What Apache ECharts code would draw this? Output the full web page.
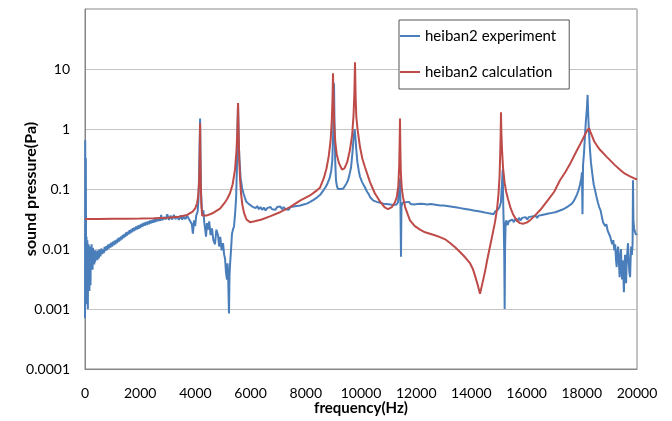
<!DOCTYPE html>
<html>
<head>
<meta charset="utf-8">
<script src="https://cdn.jsdelivr.net/npm/echarts@6/dist/echarts.min.js"></script>
<style>
html,body{margin:0;padding:0;background:#fff;}
#chart{width:672px;height:421px;}
</style>
</head>
<body>
<div id="chart"></div>
<script>
// ---- data (frequency Hz, sound pressure Pa) ----
const seriesNames = ['heiban2 experiment', 'heiban2 calculation'];
const xTicks = [0, 2000, 4000, 6000, 8000, 10000, 12000, 14000, 16000, 18000, 20000];
const yTickLabels = ['0.0001', '0.001', '0.01', '0.1', '1', '10'];

const experiment = [
[0,0.0007],[8,0.65],[15,0.03],[22,0.02],[30,0.33],[38,0.012],[46,0.004],[54,0.016],[62,0.0012],[70,0.009],[78,0.0025],[86,0.014],[95,0.0015],[104,0.001],[113,0.008],[122,0.0022],[131,0.012],[140,0.004],[150,0.0095],[160,0.002],[170,0.011],[180,0.0045],[190,0.008],[200,0.0025],[212,0.0105],[225,0.005],[238,0.012],[250,0.0065],[262,0.009],[275,0.0045],[290,0.0105],[305,0.0065],[320,0.0095],[335,0.0055],[350,0.0085],[368,0.006],[385,0.0095],[405,0.007],[425,0.009],[450,0.0065],[475,0.0095],[500,0.007],[530,0.0098],[560,0.0075],[590,0.0102],[620,0.0082],[650,0.0098],[680,0.0085],[710,0.0108],[740,0.0092],[770,0.0112],[800,0.0096],[830,0.0118],[860,0.0102],[890,0.0122],[920,0.0106],[950,0.0128],[980,0.011],[1010,0.0132],[1040,0.0115],
[1070,0.0138],[1100,0.012],[1130,0.0142],[1160,0.0126],[1190,0.015],[1220,0.0132],[1250,0.0156],[1280,0.0138],[1310,0.0162],[1340,0.0145],[1370,0.0172],[1400,0.0152],[1430,0.0178],[1460,0.016],[1490,0.0188],[1520,0.0168],[1550,0.0195],[1580,0.0175],[1610,0.0205],[1640,0.0182],[1670,0.0212],[1700,0.019],[1730,0.0222],[1760,0.0198],[1790,0.0228],[1820,0.0205],[1850,0.0238],[1880,0.0212],[1910,0.0245],[1940,0.0218],[1970,0.0252],[2000,0.0225],[2040,0.0262],[2080,0.0235],[2120,0.0272],[2160,0.0245],[2200,0.028],[2240,0.0252],[2280,0.0288],[2320,0.026],[2360,0.0298],[2400,0.0268],[2440,0.0305],[2480,0.0275],[2520,0.0315],[2560,0.0282],[2600,0.0325],[2640,0.029],[2680,0.0335],[2720,0.0295],[2760,0.037],[2800,0.03],[2860,0.034],[2920,0.031],[2980,0.038],[3040,0.0305],[3100,0.036],[3160,0.031],[3220,0.037],[3280,0.0315],[3340,0.035],[3400,0.0305],[3460,0.036],[3520,0.031],[3580,0.0345],[3640,0.0315],[3700,0.036],[3760,0.032],[3820,0.034],[3870,0.026],[3910,0.018],[3950,0.03],[3990,0.024],[4030,0.036],[4080,0.042],[4110,0.065],[4135,0.18],[4155,0.6],[4170,1.5],[4185,0.35],[4205,0.09],[4230,0.05],[4260,0.036],[4290,0.044],[4320,0.028],[4350,0.022],[4385,0.016],[4420,0.027],[4460,0.021],[4500,0.029],[4550,0.017],[4600,0.022],[4650,0.014],[4710,0.012],[4760,0.021],[4820,0.017],[4860,0.011],[4900,0.016],[4950,0.0095],[5000,0.0125],[5040,0.0082],[5075,0.0068],[5110,0.004],[5145,0.0031],[5165,0.0058],[5185,0.0038],[5205,0.0014],[5217,0.00084],[5235,0.0035],[5255,0.0055],[5290,0.0095],[5326,0.018],[5360,0.021],[5400,0.024],[5440,0.04],[5475,0.07],[5505,0.23],[5525,1.0],[5545,2.6],[5570,0.6],[5600,0.28],[5640,0.15],[5690,0.105],[5740,0.085],[5790,0.072],[5840,0.062],[5890,0.065],[5940,0.056],[6000,0.058],[6060,0.051],[6120,0.054],[6180,0.048],[6240,0.052],[6300,0.046],[6360,0.05],[6420,0.045],[6480,0.049],[6540,0.044],[6600,0.048],[6660,0.045],[6720,0.05],[6780,0.046],[6840,0.049],[6900,0.045],[6960,0.05],[7020,0.047],[7080,0.051],[7140,0.046],[7200,0.05],[7260,0.046],[7320,0.049],[7380,0.045],[7440,0.05],[7500,0.047],[7560,0.051],[7620,0.048],[7680,0.052],[7740,0.049],[7800,0.053],[7860,0.05],[7920,0.055],[7980,0.052],[8040,0.057],[8100,0.055],[8160,0.061],[8220,0.059],[8280,0.066],[8340,0.064],[8400,0.072],[8460,0.07],[8520,0.08],[8580,0.085],[8650,0.097],[8720,0.108],[8790,0.125],[8860,0.15],[8920,0.2],[8960,0.3],[8990,0.8],[9010,3],[9022,5.8],[9040,1.2],[9065,0.3],[9094,0.14],[9130,0.11],[9170,0.1],[9220,0.094],[9270,0.1],[9312,0.097],[9360,0.102],[9420,0.11],[9480,0.125],[9530,0.14],[9590,0.18],[9640,0.23],[9690,0.4],[9730,0.7],[9770,1.0],[9800,0.7],[9830,0.45],[9870,0.28],[9920,0.2],[9964,0.16],[10040,0.13],[10100,0.115],[10150,0.105],[10220,0.09],[10280,0.082],[10330,0.073],[10400,0.07],[10450,0.064],[10510,0.066],[10570,0.061],[10630,0.063],[10690,0.059],[10750,0.062],[10810,0.057],[10870,0.06],[10930,0.056],[10990,0.059],[11050,0.055],[11110,0.058],[11170,0.054],[11230,0.058],[11290,0.055],[11340,0.06],[11380,0.1],[11413,0.15],[11430,0.05],[11449,0.0074],[11465,0.05],[11500,0.059],[11560,0.055],[11620,0.06],[11680,0.056],[11740,0.061],[11800,0.056],[11860,0.06],[11920,0.055],[11980,0.059],[12040,0.056],[12100,0.06],[12160,0.057],[12220,0.061],[12280,0.056],[12340,0.06],[12400,0.055],[12460,0.059],[12520,0.056],[12580,0.06],[12640,0.055],[12700,0.058],[12760,0.054],[12820,0.058],[12880,0.053],[12940,0.057],[13000,0.053],[13060,0.056],[13120,0.052],[13180,0.055],[13240,0.051],[13300,0.054],[13360,0.05],[13420,0.053],[13480,0.049],[13540,0.052],[13600,0.048],[13660,0.051],[13720,0.047],[13780,0.05],[13840,0.046],[13900,0.049],[13960,0.045],[14020,0.048],[14080,0.044],[14140,0.046],[14200,0.043],[14260,0.045],[14320,0.042],[14380,0.044],[14440,0.041],[14500,0.043],[14560,0.04],[14620,0.042],[14680,0.039],[14740,0.041],[14800,0.038],[14860,0.042],[14920,0.04],[14970,0.046],[15020,0.05],[15070,0.06],[15110,0.06],[15135,0.21],[15155,0.05],[15170,0.027],[15190,0.008],[15205,0.001],[15220,0.01],[15240,0.027],[15270,0.03],[15310,0.025],[15360,0.029],[15420,0.027],[15480,0.031],[15540,0.028],[15600,0.032],[15660,0.029],[15720,0.033],[15780,0.03],[15840,0.033],[15900,0.031],[15960,0.034],[16020,0.031],[16080,0.034],[16140,0.032],[16200,0.035],[16260,0.033],[16320,0.036],[16380,0.033],[16440,0.036],[16500,0.034],[16560,0.037],[16620,0.035],[16680,0.038],[16740,0.036],[16800,0.039],[16860,0.037],[16920,0.04],[16980,0.038],[17040,0.041],[17100,0.04],[17160,0.043],[17220,0.042],[17280,0.045],[17340,0.045],[17400,0.048],[17460,0.049],[17520,0.052],[17580,0.053],[17640,0.057],[17700,0.062],[17760,0.07],[17820,0.08],[17880,0.095],[17930,0.115],[17980,0.15],[18005,0.19],[18025,0.038],[18045,0.25],[18080,0.4],[18110,0.7],[18150,1.4],[18185,2.2],[18210,3.7],[18235,1.6],[18260,0.9],[18290,0.5],[18330,0.28],[18380,0.18],[18430,0.12],[18480,0.095],[18530,0.075],[18580,0.06],[18630,0.05],[18680,0.044],[18730,0.034],[18770,0.028],[18810,0.03],[18850,0.024],[18890,0.026],[18940,0.02],[18990,0.021],[19030,0.016],[19070,0.017],[19100,0.012],[19140,0.014],[19180,0.0095],[19210,0.012],[19240,0.0065],[19265,0.005],[19290,0.009],[19315,0.011],[19345,0.006],[19370,0.0034],[19395,0.0075],[19420,0.01],[19440,0.0045],[19460,0.0031],[19480,0.0065],[19500,0.0045],[19525,0.0019],[19545,0.004],[19565,0.008],[19585,0.005],[19605,0.0027],[19625,0.006],[19650,0.009],[19675,0.0125],[19700,0.006],[19725,0.004],[19750,0.0034],[19770,0.007],[19790,0.011],[19815,0.008],[19840,0.012],[19855,0.14],[19870,0.03],[19895,0.022],[19930,0.019],[19965,0.0174],[20000,0.018]
];

const calculation = [
[0,0.0316],[500,0.0316],[1000,0.0318],[1500,0.032],[2000,0.0323],[2500,0.0327],[3000,0.0333],[3400,0.0345],[3700,0.037],[3900,0.042],[4000,0.048],[4060,0.058],[4100,0.075],[4130,0.12],[4150,0.25],[4160,0.5],[4170,1.25],[4180,0.4],[4195,0.12],[4215,0.055],[4245,0.036],[4275,0.034],[4400,0.036],[4600,0.039],[4891,0.047],[5050,0.058],[5150,0.068],[5254,0.085],[5350,0.12],[5435,0.21],[5490,0.45],[5520,0.9],[5545,2.7],[5565,0.9],[5590,0.3],[5620,0.14],[5652,0.085],[5700,0.055],[5761,0.04],[5850,0.031],[5978,0.028],[6150,0.029],[6400,0.031],[6700,0.035],[7065,0.041],[7428,0.05],[7790,0.064],[8152,0.078],[8400,0.095],[8514,0.105],[8650,0.15],[8750,0.22],[8830,0.35],[8900,0.65],[8945,1.5],[8970,3.5],[8986,8.5],[9005,3],[9030,1.2],[9070,0.6],[9120,0.38],[9200,0.27],[9312,0.21],[9400,0.22],[9500,0.28],[9600,0.45],[9680,0.8],[9730,1.7],[9760,4],[9783,13],[9805,3.5],[9830,1.6],[9880,0.95],[9964,0.5],[10050,0.32],[10145,0.23],[10326,0.13],[10500,0.085],[10688,0.062],[10850,0.05],[10978,0.046],[11120,0.05],[11232,0.06],[11300,0.075],[11350,0.11],[11385,0.25],[11400,0.6],[11413,1.5],[11425,0.5],[11445,0.18],[11480,0.1],[11522,0.073],[11600,0.05],[11700,0.037],[11775,0.03],[11950,0.024],[12138,0.021],[12320,0.019],[12500,0.018],[12700,0.0168],[12862,0.0158],[13050,0.0145],[13225,0.0126],[13400,0.0108],[13587,0.0089],[13780,0.0072],[13949,0.0058],[14050,0.0047],[14130,0.0036],[14220,0.0026],[14312,0.0018],[14400,0.0027],[14493,0.0042],[14580,0.0068],[14674,0.011],[14770,0.018],[14855,0.028],[14928,0.046],[14980,0.08],[15020,0.16],[15045,0.4],[15060,0.8],[15072,1.9],[15085,0.9],[15110,0.45],[15145,0.23],[15200,0.13],[15260,0.09],[15326,0.068],[15420,0.048],[15507,0.038],[15640,0.03],[15761,0.027],[15870,0.0264],[16000,0.0275],[16123,0.03],[16300,0.036],[16500,0.045],[16800,0.068],[17000,0.09],[17210,0.14],[17400,0.19],[17572,0.26],[17750,0.38],[17935,0.55],[18100,0.78],[18200,0.95],[18261,1.04],[18330,0.85],[18450,0.62],[18560,0.52],[18659,0.45],[18913,0.34],[19200,0.25],[19384,0.21],[19560,0.18],[19746,0.163],[19900,0.15],[20000,0.145]
];

const chart = echarts.init(document.getElementById('chart'), null, {renderer: 'canvas'});
const font = 'Lato, "Open Sans", sans-serif';

chart.setOption({
  animation: false,
  backgroundColor: '#ffffff',
  grid: {left: 85, right: 35, top: 9, bottom: 52, show: true, borderColor: '#868686', borderWidth: 1,
         backgroundColor: 'transparent', containLabel: false, outerBoundsMode: 'none'},
  legend: {
    data: seriesNames,
    orient: 'vertical',
    left: 399, top: 20,
    padding: [8, 13, 9, 1],
    itemGap: 20,
    itemWidth: 20,
    itemHeight: 2,
    icon: 'rect',
    borderColor: '#555',
    borderWidth: 1,
    backgroundColor: '#ffffff',
    textStyle: {fontFamily: font, fontSize: 15, color: '#000', lineHeight: 16}
  },
  xAxis: {
    type: 'value',
    min: xTicks[0], max: xTicks[xTicks.length - 1], interval: xTicks[1] - xTicks[0],
    name: 'frequency(Hz)', nameLocation: 'middle', nameGap: 32, nameMoveOverlap: false,
    nameTextStyle: {fontFamily: font, fontSize: 15, fontWeight: 'bold', color: '#000'},
    axisLine: {show: true, lineStyle: {color: '#868686', width: 1}},
    axisTick: {show: false},
    splitLine: {show: false},
    axisLabel: {fontFamily: font, fontSize: 14, color: '#000', margin: 17,
                formatter: function (v) { return String(v); }}
  },
  yAxis: {
    type: 'log', logBase: 10, min: 0.0001, max: 100, splitNumber: 6,
    name: 'sound pressure(Pa)', nameLocation: 'middle', nameGap: 46, nameMoveOverlap: false,
    nameTextStyle: {fontFamily: font, fontSize: 16, fontWeight: 'bold', color: '#000'},
    axisLine: {show: true, lineStyle: {color: '#868686', width: 1}},
    axisTick: {show: false},
    splitLine: {show: true, lineStyle: {color: '#c4c4c4', width: 1}},
    axisLabel: {
      fontFamily: font, fontSize: 14, color: '#000', margin: 15,
      formatter: function (v) {
        const k = Math.round(Math.log10(v)) + 4;
        return yTickLabels[k] !== undefined ? yTickLabels[k] : '';
      }
    }
  },
  series: [
    {name: seriesNames[0], type: 'line', data: experiment, showSymbol: false, symbol: 'none',
     lineStyle: {color: '#4a7ebb', width: 2}, itemStyle: {color: '#4a7ebb'}, z: 2},
    {name: seriesNames[1], type: 'line', data: calculation, showSymbol: false, symbol: 'none',
     lineStyle: {color: '#be4b48', width: 2}, itemStyle: {color: '#be4b48'}, z: 3}
  ]
});
</script>
</body>
</html>
